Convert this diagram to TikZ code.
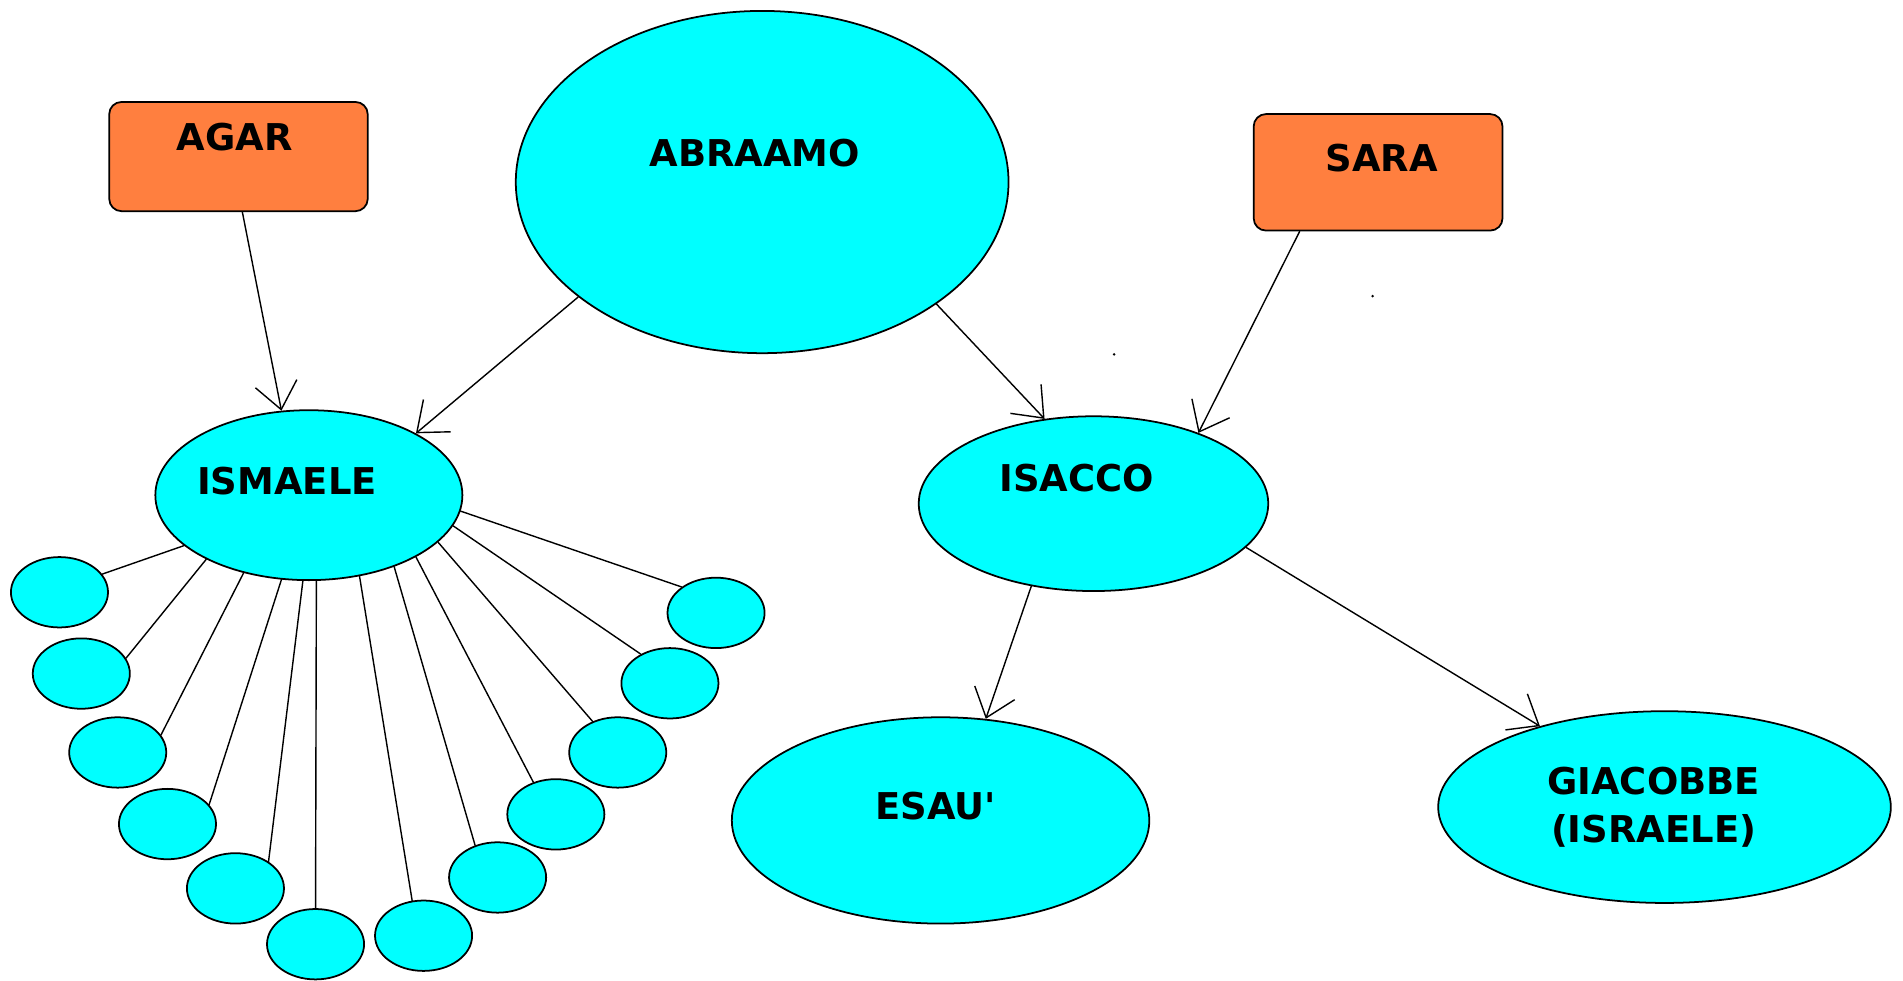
\documentclass[tikz,border=0pt]{standalone}
\usepackage{fontspec}
\setmainfont{DejaVu Sans}
\usetikzlibrary{shapes.geometric,arrows.meta}
\definecolor{ciano}{HTML}{00FFFF}
\definecolor{arancio}{HTML}{FF7F3F}
\def\px{0.012136cm}
\tikzset{
  persona/.style={ellipse, draw, fill=ciano, line width=0.5pt, inner sep=0pt},
  madre/.style={rectangle, draw, fill=arancio, rounded corners=3.5pt, line width=0.5pt, inner sep=0pt},
  figlio/.style={persona, minimum width=80*\px, minimum height=58*\px},
  freccia/.style={->, line width=0.4pt}
}
\begin{document}
\begin{tikzpicture}[x=\px, y=-\px, >={Straight Barb[length=7.5pt,width=12pt]}, font=\bfseries\fontsize{10.5}{13.5}\selectfont, line join=round, line cap=round]
	\useasboundingbox (0,0) rectangle (1568,808);
	% Nodi
	\node[madre, minimum width=213*\px, minimum height=90*\px, label={[shift={(-3,-16)}]center:AGAR}] (agar) at (196.5,129) {};
	\node[madre, minimum width=205*\px, minimum height=96*\px, label={[shift={(3,-12)}]center:SARA}] (sara) at (1135.5,142) {};
	\node[persona, minimum width=406*\px, minimum height=282*\px, label={[shift={(-6,-24)}]center:ABRAAMO}] (abr) at (628,150) {};
	\node[persona, minimum width=253*\px, minimum height=140*\px, label={[shift={(-18,-12)}]center:ISMAELE}] (ism) at (254.5,408) {};
	\node[persona, minimum width=288*\px, minimum height=144*\px, label={[shift={(-14,-21)}]center:ISACCO}] (isa) at (901,415) {};
	\node[persona, minimum width=344*\px, minimum height=170*\px, label={[shift={(-4,-12)}]center:ESAU\textquotesingle}] (esau) at (775,676) {};
	\node[persona, minimum width=373*\px, minimum height=158*\px, label={[shift={(-9,0)}, align=center]center:GIACOBBE\\(ISRAELE)}] (gia) at (1371.5,665) {};
	% Frecce
	\draw[freccia] (agar.274) -- (ism.108);
	\draw[freccia] (abr.212) -- (ism.30);
	\draw[freccia] (abr.325) -- (isa.120);
	\draw[freccia] (sara.217) -- (isa.34);
	\draw[freccia] (isa.233) -- (esau.66);
	\draw[freccia] (isa.344) -- (gia.147);
	% Figli di Ismaele
	\foreach \cx/\cy/\a/\b [count=\i] in {49/488/202/23, 67/555/212/19, 97/620/230/22, 138/679/252/25,
		194/732/266/39, 260/778/275/90, 349/771/302/108, 410/723/320/125,
		458/671/330/125, 509/620/340/129, 552/563/348/135, 590/505/354/143}
	{
		\node[figlio] (f\i) at (\cx,\cy) {};
		\draw[line width=0.4pt] (ism.\a) -- (f\i.\b);
	}
	\fill (918,292) circle (1.2);
	\fill (1131,244) circle (1.2);
\end{tikzpicture}
\end{document}
